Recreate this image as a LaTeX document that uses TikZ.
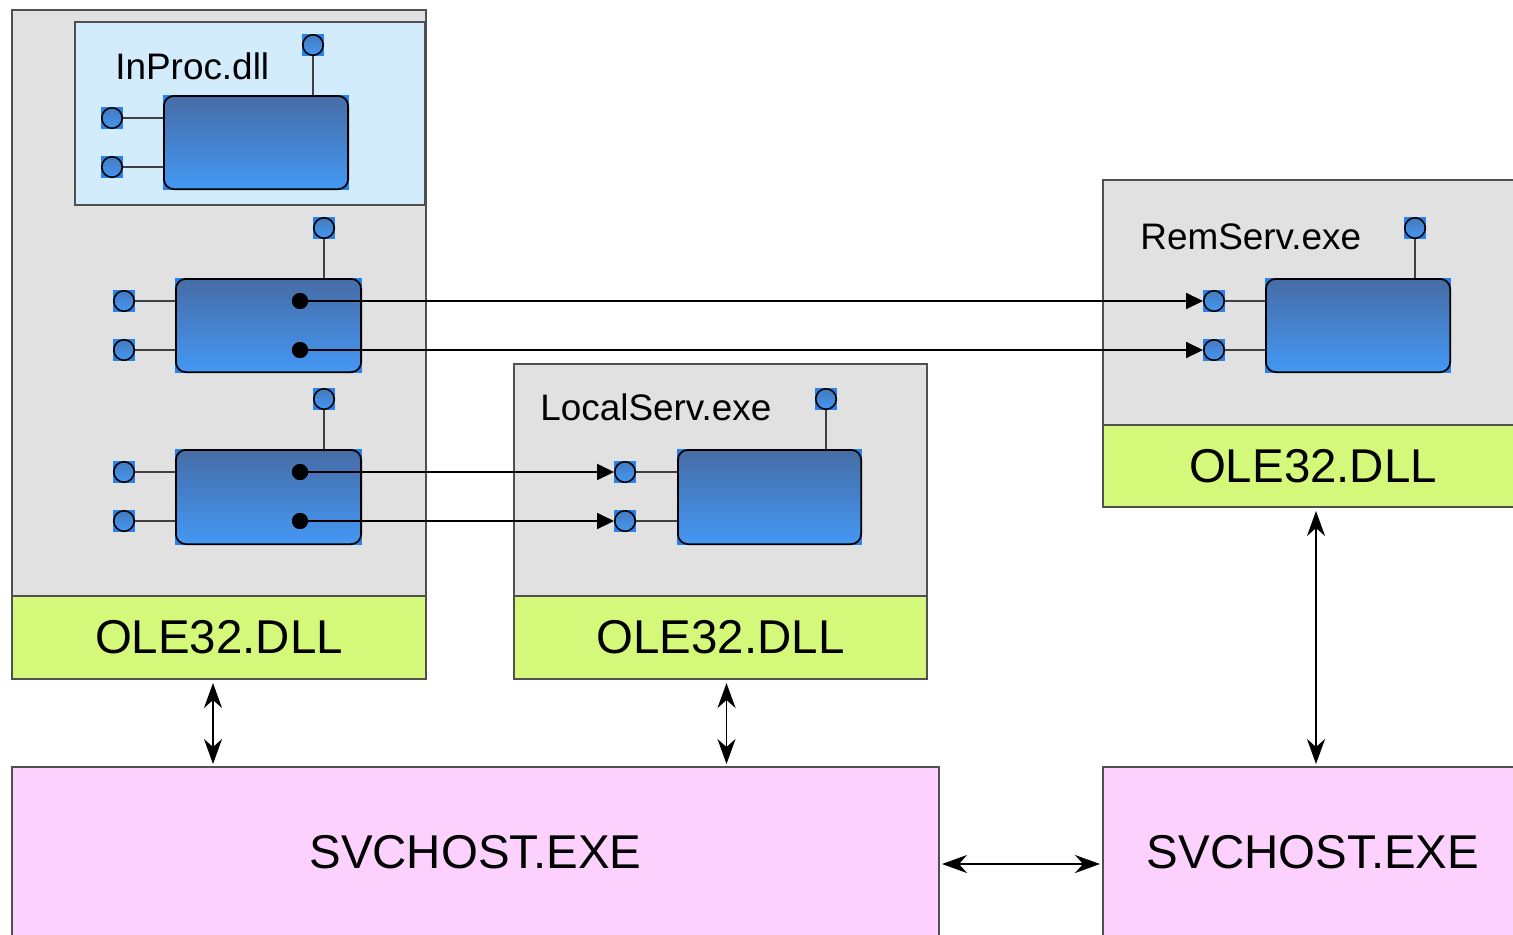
\documentclass[tikz,border=0pt]{standalone}
\usepackage{fontspec}
\setmainfont{Liberation Sans}
\usetikzlibrary{arrows.meta,calc}
\definecolor{procgray}{RGB}{225,225,225}
\definecolor{dllblue}{RGB}{210,236,252}
\definecolor{olegreen}{RGB}{212,249,122}
\definecolor{svcpink}{RGB}{253,209,253}
\definecolor{edgegray}{RGB}{80,80,80}
\definecolor{comptop}{RGB}{70,108,165}
\definecolor{compbot}{RGB}{68,152,245}
\definecolor{cornerblue}{RGB}{40,130,235}
\begin{document}
\begin{tikzpicture}[x=0.02cm,y=-0.02cm,
  wh/.style 2 args={minimum width=#1*0.02cm, minimum height=#2*0.02cm},
  box/.style={draw=edgegray, line width=1.1pt, inner sep=0pt, outer sep=0pt, anchor=north west},
  proc/.style={box, fill=procgray},
  dll/.style={box, fill=dllblue},
  ole/.style={box, fill=olegreen, font=\fontsize{27}{30}\selectfont},
  svc/.style={box, fill=svcpink, font=\fontsize{27}{30}\selectfont},
  title/.style={anchor=west, inner sep=0pt, font=\fontsize{21}{24}\selectfont},
  comp/.style={rectangle, anchor=north west, inner sep=0pt, outer sep=0pt, fill=cornerblue,
    path picture={\shadedraw[top color=comptop, bottom color=compbot, draw=black, line width=1pt, rounded corners=0.2cm]
      ([shift={(0.5pt,-0.5pt)}]path picture bounding box.north west) rectangle ([shift={(-0.5pt,0.5pt)}]path picture bounding box.south east);}},
  port/.style={rectangle, minimum size=0.44cm, inner sep=0pt, outer sep=0pt, fill=cornerblue,
    path picture={\shadedraw[top color=comptop!70!compbot, bottom color=compbot, draw=black, line width=0.9pt]
      (path picture bounding box.center) circle (0.205cm);}},
  dot/.style={circle, fill=black, minimum size=0.32cm, inner sep=0pt},
  wire/.style={draw=black!75, line width=1pt},
  call/.style={draw=black, line width=1.1pt, -{Triangle[length=0.34cm,width=0.32cm]}},
  link/.style={draw=black, line width=1.1pt, {Stealth[length=0.5cm,width=0.36cm,inset=0.16cm]}-{Stealth[length=0.5cm,width=0.36cm,inset=0.16cm]}},
]
\useasboundingbox (0,0) rectangle (1513,934);
\clip (0,0) rectangle (1513,934);

% ---------- client process ----------
\node[proc, wh={414}{586}] (p1) at (12,10) {};
\node[ole, wh={414}{83}] (o1) at (12,596) {OLE32.DLL};
\node[dll, wh={350}{183}] (ip) at (75,22) {};
\node[title] (ipl) at (115,66) {InProc.dll};

\node[comp, wh={186}{95}] (c1) at (163,95) {};
\node[port] (c1a) at (112,118) {};
\node[port] (c1b) at (112,167) {};
\node[port] (c1t) at (313,45) {};
\draw[wire] (c1a.east) -- (c1a -| c1.west);
\draw[wire] (c1b.east) -- (c1b -| c1.west);
\draw[wire] (c1t.south) -- (c1t |- c1.north);

\node[comp, wh={187}{95}] (c2) at (175,278) {};
\node[port] (c2a) at (124,301) {};
\node[port] (c2b) at (124,350) {};
\node[port] (c2t) at (324,228) {};
\draw[wire] (c2a.east) -- (c2a -| c2.west);
\draw[wire] (c2b.east) -- (c2b -| c2.west);
\draw[wire] (c2t.south) -- (c2t |- c2.north);

\node[comp, wh={187}{96}] (c3) at (175,449) {};
\node[port] (c3a) at (124,472) {};
\node[port] (c3b) at (124,521) {};
\node[port] (c3t) at (324,399) {};
\draw[wire] (c3a.east) -- (c3a -| c3.west);
\draw[wire] (c3b.east) -- (c3b -| c3.west);
\draw[wire] (c3t.south) -- (c3t |- c3.north);

% ---------- local server ----------
\node[proc, wh={413}{232}] (p2) at (514,364) {};
\node[ole, wh={413}{83}] (o2) at (514,596) {OLE32.DLL};
\node[title] (lsl) at (540,407) {LocalServ.exe};
\node[comp, wh={185}{96}] (c4) at (677,449) {};
\node[port] (c4a) at (625,472) {};
\node[port] (c4b) at (625,521) {};
\node[port] (c4t) at (826,399) {};
\draw[wire] (c4a.east) -- (c4a -| c4.west);
\draw[wire] (c4b.east) -- (c4b -| c4.west);
\draw[wire] (c4t.south) -- (c4t |- c4.north);

% ---------- remote server ----------
\node[proc, wh={420}{245}] (p3) at (1103,180) {};
\node[ole, wh={420}{82}] (o3) at (1103,425) {OLE32.DLL};
\node[title] (rsl) at (1140,237) {RemServ.exe};
\node[comp, wh={186}{95}] (c5) at (1265,278) {};
\node[port] (c5a) at (1214,301) {};
\node[port] (c5b) at (1214,350) {};
\node[port] (c5t) at (1415,228) {};
\draw[wire] (c5a.east) -- (c5a -| c5.west);
\draw[wire] (c5b.east) -- (c5b -| c5.west);
\draw[wire] (c5t.south) -- (c5t |- c5.north);

% ---------- SVCHOST ----------
\node[svc, wh={927}{170}] (s1) at (12,767) {SVCHOST.EXE};
\node[svc, wh={420}{170}] (s2) at (1103,767) {SVCHOST.EXE};

% ---------- proxies -> servers ----------
\node[dot] (d2a) at (300,301) {};
\node[dot] (d2b) at (300,350) {};
\node[dot] (d3a) at (300,472) {};
\node[dot] (d3b) at (300,521) {};
\draw[call] (d2a.center) -- (c5a.west);
\draw[call] (d2b.center) -- (c5b.west);
\draw[call] (d3a.center) -- (c4a.west);
\draw[call] (d3b.center) -- (c4b.west);
\node[dot] at (d2a) {};
\node[dot] at (d2b) {};
\node[dot] at (d3a) {};
\node[dot] at (d3b) {};

% ---------- OLE32 <-> SVCHOST ----------
\draw[link] ($(o1.south)+(-6,4)$) -- ($(o1.south |- s1.north)+(-6,-3)$);
\draw[link] ($(o2.south)+(6,4)$) -- ($(o2.south |- s1.north)+(6,-3)$);
\draw[link] ($(o3.south)+(3,4)$) -- ($(o3.south |- s2.north)+(3,-3)$);
\coordinate (hy) at (0,864);
\draw[link] ($(s1.east |- hy)+(3,0)$) -- ($(s2.west |- hy)+(-3,0)$);
\end{tikzpicture}
\end{document}
